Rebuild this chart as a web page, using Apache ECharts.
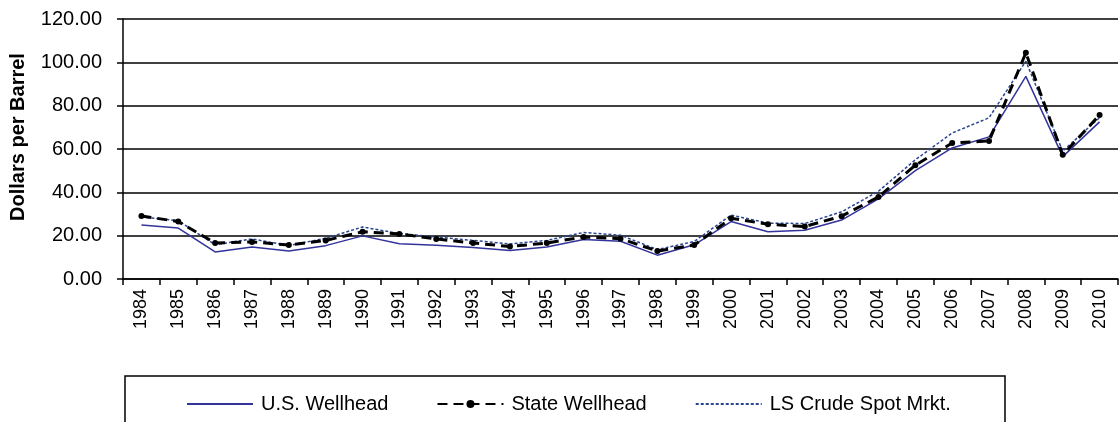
<html>
<head>
<meta charset="utf-8">
<title>Crude Oil Prices</title>
<script src="https://cdn.jsdelivr.net/npm/echarts@6/dist/echarts.min.js"></script>
<style>
body { margin: 0; background: #fff; }
#chart { width: 1120px; height: 422px; }
</style>
</head>
<body>
<div id="chart"></div>
<script>
// years on the x axis
var years = ['1984','1985','1986','1987','1988','1989','1990','1991','1992','1993','1994','1995','1996','1997',
	'1998','1999','2000','2001','2002','2003','2004','2005','2006','2007','2008','2009','2010'];

// dollars per barrel
var usWellhead = [24.9,23.5,12.5,14.8,12.9,15.4,19.9,16.3,15.6,14.5,13.2,14.8,18.2,17.4,11.0,15.8,26.5,21.8,22.5,27.2,37.0,50.0,60.5,65.6,93.5,56.5,72.5];
var stateWellhead = [29.1,26.5,16.6,17.1,15.7,17.8,21.8,20.8,18.5,16.6,15.0,16.6,19.4,18.6,12.9,15.7,28.0,25.3,24.2,29.0,37.9,52.5,62.8,63.7,104.4,57.3,75.7];
var lsCrudeSpot = [28.6,26.9,15.8,18.5,15.4,18.8,24.0,21.0,19.4,17.8,16.2,17.8,21.5,20.2,13.6,17.3,29.5,25.8,25.6,31.0,40.5,55.0,67.4,74.4,100.5,59.0,74.5];

var yTicks = [0, 20, 40, 60, 80, 100, 120];

var myChart = echarts.init(document.getElementById('chart'));

var font = 'Liberation Sans, Arial, sans-serif';

var option = {
	animation: false,
	grid: { left: 123, right: 2, top: 19, bottom: 143 },
	graphic: [{
		type: 'rect',
		shape: { x: 125, y: 376, width: 880, height: 60 },
		style: { fill: '#fff', stroke: '#000', lineWidth: 1.5 }
	}],
	legend: {
		left: 181,
		top: 389,
		itemWidth: 66,
		itemHeight: 10,
		itemGap: 48,
		textStyle: { fontFamily: font, fontSize: 20, color: '#000', padding: [0, 0, 0, 3] },
		data: [
			{ name: 'U.S. Wellhead', itemStyle: { opacity: 0 } },
			{ name: 'State Wellhead' },
			{ name: 'LS Crude Spot Mrkt.', itemStyle: { opacity: 0 } }
		]
	},
	xAxis: {
		type: 'category',
		data: years,
		boundaryGap: true,
		axisLine: { lineStyle: { color: '#000', width: 1.5 } },
		axisTick: { show: true, length: 6, lineStyle: { color: '#000', width: 1.5 } },
		axisLabel: { rotate: 90, fontFamily: font, fontSize: 18, color: '#000', margin: 10, interval: 0 }
	},
	yAxis: {
		type: 'value',
		min: yTicks[0],
		max: yTicks[yTicks.length - 1],
		interval: 20,
		name: 'Dollars per Barrel',
		nameLocation: 'middle',
		nameGap: 95,
		nameTextStyle: { fontFamily: font, fontSize: 20, fontWeight: 'bold', color: '#000', padding: [0, 0, 0, 24] },
		axisLine: { show: true, lineStyle: { color: '#000', width: 1.5 } },
		axisTick: { show: true, length: 6, lineStyle: { color: '#000', width: 1.5 } },
		axisLabel: {
			fontFamily: font, fontSize: 20, color: '#000', margin: 21,
			formatter: function (v) { return v.toFixed(2); }
		},
		splitLine: { lineStyle: { color: '#000', width: 1.5 } }
	},
	series: [
		{
			name: 'U.S. Wellhead',
			type: 'line',
			data: usWellhead,
			symbol: 'none',
			lineStyle: { color: '#33339c', width: 1.5 },
			itemStyle: { color: '#33339c' }
		},
		{
			name: 'LS Crude Spot Mrkt.',
			type: 'line',
			data: lsCrudeSpot,
			symbol: 'none',
			lineStyle: { color: '#2a4690', width: 1.5, type: [3, 2] },
			itemStyle: { color: '#2a4690' }
		},
		{
			name: 'State Wellhead',
			type: 'line',
			data: stateWellhead,
			symbol: 'circle',
			symbolSize: 6,
			lineStyle: { color: '#000', width: 3, type: [10, 6] },
			itemStyle: { color: '#000' }
		}
	]
};

myChart.setOption(option);
</script>
</body>
</html>
